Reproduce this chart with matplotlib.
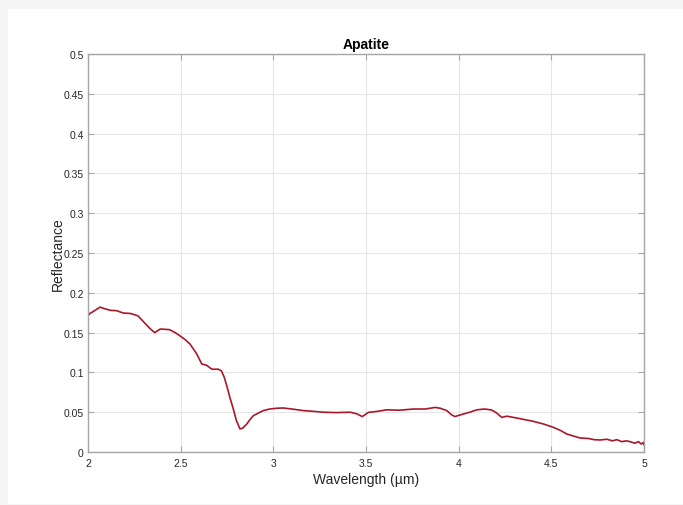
import matplotlib
matplotlib.use('Agg')
import matplotlib.pyplot as plt
from matplotlib.patches import Rectangle

plt.rcParams['font.family'] = ['Liberation Sans', 'DejaVu Sans']

# spectrum
wavelength = [2.000, 2.010, 2.025, 2.045, 2.065, 2.090, 2.120, 2.155, 2.190, 2.230,
              2.270, 2.290, 2.310, 2.335, 2.360, 2.390, 2.440, 2.470, 2.496, 2.525,
              2.550, 2.570, 2.587, 2.614, 2.640, 2.668, 2.703, 2.720, 2.735, 2.749,
              2.765, 2.784, 2.800, 2.820, 2.835, 2.856, 2.875, 2.892, 2.920, 2.946,
              2.980, 3.020, 3.054, 3.100, 3.162, 3.220, 3.270, 3.340, 3.414, 3.450,
              3.480, 3.513, 3.560, 3.612, 3.680, 3.756, 3.820, 3.873, 3.900, 3.936,
              3.960, 3.980, 4.000, 4.025, 4.060, 4.098, 4.140, 4.178, 4.205, 4.232,
              4.260, 4.295, 4.350, 4.403, 4.460, 4.511, 4.550, 4.583, 4.620, 4.655,
              4.700, 4.730, 4.763, 4.800, 4.830, 4.853, 4.880, 4.905, 4.925, 4.950,
              4.970, 4.985, 4.997, 5.000]
reflectance = [0.171, 0.174, 0.176, 0.179, 0.182, 0.180, 0.178, 0.1775, 0.1746, 0.174,
               0.171, 0.166, 0.161, 0.155, 0.150, 0.1545, 0.1537, 0.150, 0.146, 0.141,
               0.1357, 0.129, 0.123, 0.1106, 0.109, 0.104, 0.104, 0.102, 0.094, 0.083,
               0.069, 0.054, 0.040, 0.029, 0.030, 0.035, 0.041, 0.0456, 0.049, 0.052,
               0.054, 0.055, 0.0553, 0.054, 0.052, 0.051, 0.050, 0.0495, 0.050, 0.048,
               0.0445, 0.0498, 0.051, 0.053, 0.0525, 0.054, 0.054, 0.056, 0.055, 0.052,
               0.047, 0.0445, 0.046, 0.0477, 0.050, 0.053, 0.054, 0.0528, 0.049, 0.0435,
               0.045, 0.0435, 0.041, 0.0385, 0.035, 0.031, 0.027, 0.0226, 0.020, 0.0176,
               0.017, 0.0155, 0.0151, 0.016, 0.014, 0.0155, 0.013, 0.014, 0.013, 0.011,
               0.013, 0.010, 0.012, 0.009]

x_ticks = [2, 2.5, 3, 3.5, 4, 4.5, 5]
x_tick_labels = ['2', '2.5', '3', '3.5', '4', '4.5', '5']
y_ticks = [0, 0.05, 0.1, 0.15, 0.2, 0.25, 0.3, 0.35, 0.4, 0.45, 0.5]
y_tick_labels = ['0', '0.05', '0.1', '0.15', '0.2', '0.25', '0.3', '0.35', '0.4', '0.45', '0.5']

fig = plt.figure(figsize=(6.83, 5.06), dpi=100, facecolor='#f5f5f5')
fig.patches.append(Rectangle((8 / 683, 1 / 506), 1, 495 / 506, transform=fig.transFigure,
                             facecolor='white', edgecolor='none', zorder=-1))
ax = fig.add_axes([88 / 683, 53 / 506, 556 / 683, 398 / 506])

ax.plot(wavelength, reflectance, color='#a8182a', linewidth=1.2)

ax.set_xlim(2, 5)
ax.set_ylim(0, 0.5)
ax.set_xticks(x_ticks)
ax.set_xticklabels(x_tick_labels)
ax.set_yticks(y_ticks)
ax.set_yticklabels(y_tick_labels)
ax.grid(True, color='#e6e6e6', linewidth=0.8)
ax.set_axisbelow(True)
for s in ax.spines.values():
    s.set_color('#a6a6a6')
    s.set_linewidth(1.0)
ax.tick_params(direction='in', length=4, color='#a6a6a6', labelsize=7.5,
               labelcolor='#262626', top=True, right=True, pad=3)
ax.tick_params(axis='x', pad=4.5)

ax.set_title('Apatite', fontsize=10, fontweight='bold', color='black', pad=4)
ax.set_xlabel('Wavelength (µm)', fontsize=10, color='#262626', labelpad=3)
ax.set_ylabel('Reflectance', fontsize=10, color='#262626', labelpad=-1)

fig.savefig('out.png', dpi=100, facecolor=fig.get_facecolor())
